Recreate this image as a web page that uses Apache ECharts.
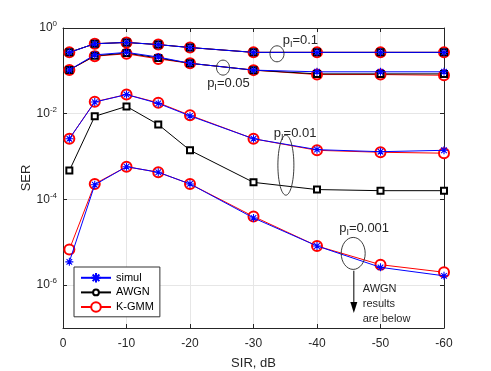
<!DOCTYPE html>
<html>
<head>
<meta charset="utf-8">
<script src="https://cdn.jsdelivr.net/npm/echarts@6/dist/echarts.min.js"></script>
<style>html,body{margin:0;padding:0;background:#fff}#c{width:491px;height:371px}</style>
</head>
<body>
<div id="c"></div>
<script>
// ---- data ----
const sir = [-1, -5, -10, -15, -20, -30, -40, -50, -60];
const xTicks = [0, -10, -20, -30, -40, -50, -60];
const yTicks = [1e-6, 1e-4, 1e-2, 1];

const simul_p1 = [0.27, 0.43, 0.46, 0.41, 0.35, 0.27, 0.27, 0.27, 0.27];
const awgn_p1  = [0.27, 0.43, 0.46, 0.41, 0.35, 0.27, 0.27, 0.27, 0.27];
const kgmm_p1  = [0.27, 0.43, 0.46, 0.41, 0.35, 0.27, 0.27, 0.27, 0.27];

const simul_p05 = [0.105, 0.236, 0.27, 0.21, 0.15, 0.104, 0.095, 0.095, 0.095];
const awgn_p05  = [0.105, 0.225, 0.26, 0.20, 0.15, 0.104, 0.085, 0.085, 0.085];
const kgmm_p05  = [0.105, 0.22, 0.25, 0.19, 0.15, 0.104, 0.082, 0.082, 0.079];

const simul_p01 = [0.0026, 0.0187, 0.028, 0.0174, 0.0089, 0.0026, 0.00145, 0.0013, 0.0014];
const awgn_p01  = [4.7e-4, 0.0087, 0.0148, 0.0056, 0.0014, 2.5e-4, 1.7e-4, 1.6e-4, 1.6e-4];
const kgmm_p01  = [0.0026, 0.019, 0.028, 0.018, 0.0092, 0.0026, 0.0014, 0.00126, 0.0012];

const simul_p001 = [3.5e-6, 2.2e-4, 5.8e-4, 4.3e-4, 2.3e-4, 3.7e-5, 8.2e-6, 2.6e-6, 1.65e-6];
const kgmm_p001  = [6.8e-6, 2.3e-4, 5.8e-4, 4.3e-4, 2.3e-4, 4.0e-5, 8.2e-6, 3.0e-6, 2.0e-6];

// annotations: label, text anchor (dB, SER), ellipse centre (dB, SER) with radii
const annLabels = ['0.1', '0.05', '0.01', '0.001'];
const annText = [[-34.6, 0.525], [-22.7, 0.051], [-33.2, 3.55e-3], [-43.5, 2.15e-5]];
const annEll = [[-33.7, 0.25, 7, 8], [-25.2, 0.119, 6.5, 7.5], [-35.1, 6.3e-4, 8, 30], [-45.7, 5.5e-6, 12, 16]];
const arrowFrom = [-45.8, 2.17e-6], arrowTo = [-45.8, 2.24e-7];
const arrowNote = 'AWGN\nresults\nare below';
const arrowNotePos = [-47.2, 1.2e-6];

// ---- styling ----
const FONT = 'Liberation Sans, Arial, sans-serif';
const AX = '#262626';
const STAR = 'path://M0,-10L0,10M-10,0L10,0M-7,-7L7,7M-7,7L7,-7';
const SMALL_O = 'path://M-10,-10M10,10M0,-6A6,6,0,1,1,0,6A6,6,0,1,1,0,-6Z';

function pts(ys) { return sir.map((x, i) => [x, ys[i]]); }

function mk(name, ys) {
  const base = { name, type: 'line', data: ys ? pts(ys) : [], z: 2, animation: false };
  if (name === 'simul') Object.assign(base, {
    symbol: STAR, symbolSize: 8, lineStyle: { color: '#0000ff', width: 1 },
    itemStyle: { color: '#0000ff', borderColor: '#0000ff', borderWidth: 1.1 }, z: 3
  });
  if (name === 'AWGN') Object.assign(base, {
    symbol: 'emptyRect', symbolSize: 6, lineStyle: { color: '#000', width: 1 },
    itemStyle: { color: '#000', borderColor: '#000', borderWidth: 0.9 }
  });
  if (name === 'K-GMM') Object.assign(base, {
    symbol: 'emptyCircle', symbolSize: 10, lineStyle: { color: '#ff0000', width: 1 },
    itemStyle: { color: '#ff0000', borderColor: '#ff0000', borderWidth: 0.9 }
  });
  return base;
}

// first 'AWGN' entry only defines the legend icon (small open circle)
const legendAwgn = mk('AWGN', null);
legendAwgn.symbol = SMALL_O;
legendAwgn.itemStyle = { color: '#fff', borderColor: '#000', borderWidth: 1 };

const series = [
  legendAwgn,
  mk('K-GMM', kgmm_p1), mk('AWGN', awgn_p1), mk('simul', simul_p1),
  mk('K-GMM', kgmm_p05), mk('AWGN', awgn_p05), mk('simul', simul_p05),
  mk('K-GMM', kgmm_p01), mk('AWGN', awgn_p01), mk('simul', simul_p01),
  mk('K-GMM', kgmm_p001), mk('simul', simul_p001)
];

const chart = echarts.init(document.getElementById('c'), null, { renderer: 'canvas' });

const xBase = {
  type: 'value', min: -60, max: 0, interval: 10, inverse: true,
  axisLine: { show: true, onZero: false, lineStyle: { color: AX, width: 1 } },
  axisTick: { show: true, inside: true, length: 4, lineStyle: { color: AX } },
};
const yBase = {
  type: 'log', logBase: 10, min: 1e-7, max: 1,
  axisLine: { show: true, onZero: false, lineStyle: { color: AX, width: 1 } },
  axisTick: { show: true, inside: true, length: 4, customValues: yTicks, lineStyle: { color: AX } },
};

chart.setOption({
  animation: false,
  textStyle: { fontFamily: FONT },
  grid: { left: 63, right: 47, top: 28, bottom: 43, containLabel: false, outerBoundsMode: 'none' },
  legend: {
    orient: 'vertical', left: 74, top: 267,
    data: ['simul', 'AWGN', 'K-GMM'],
    itemWidth: 30, itemHeight: 12, itemGap: 3,
    padding: [5, 6, 4, 6],
    backgroundColor: '#fff', borderColor: '#333', borderWidth: 1, borderRadius: 0,
    textStyle: { fontFamily: FONT, fontSize: 11, color: '#000' }
  },
  xAxis: [
    Object.assign({}, xBase, {
      position: 'bottom',
      name: 'SIR, dB', nameLocation: 'middle', nameGap: 29, nameMoveOverlap: false,
      nameTextStyle: { fontFamily: FONT, fontSize: 13, color: AX },
      axisLabel: { fontFamily: FONT, fontSize: 12, color: AX, margin: 10, formatter: v => String(v) },
      splitLine: { show: true, lineStyle: { color: '#e6e6e6', width: 1 } }
    }),
    Object.assign({}, xBase, {
      position: 'top', axisLabel: { show: false }, splitLine: { show: false }
    })
  ],
  yAxis: [
    Object.assign({}, yBase, {
      position: 'left',
      name: 'SER', nameLocation: 'middle', nameGap: 30, nameRotate: 90, nameMoveOverlap: false,
      nameTextStyle: { fontFamily: FONT, fontSize: 13, color: AX },
      axisLabel: {
        customValues: yTicks, margin: 6,
        formatter: v => '{b|10}{e|' + Math.round(Math.log10(v)) + '}',
        rich: {
          b: { fontFamily: FONT, fontSize: 12, color: AX },
          e: { fontFamily: FONT, fontSize: 8, color: AX, padding: [0, 0, 8, 0] }
        }
      },
      splitLine: { show: true, lineStyle: { color: '#e6e6e6', width: 1 } }
    }),
    Object.assign({}, yBase, {
      position: 'right', axisLabel: { show: false }, splitLine: { show: false }
    })
  ],
  series
});

// annotations placed from data coordinates
function px(p) { return chart.convertToPixel({ gridIndex: 0 }, p); }
const g = [];
annLabels.forEach((lab, i) => {
  const t = px(annText[i]);
  g.push({
    type: 'text', x: t[0], y: t[1], z: 10,
    style: {
      text: '{p|p}{s|I}{p|=' + lab + '}', verticalAlign: 'middle', align: 'left',
      rich: {
        p: { fontFamily: FONT, fontSize: 13, fill: AX },
        s: { fontFamily: FONT, fontSize: 9, fill: AX, padding: [9, 0, 0, 0] }
      }
    }
  });
  const e = px([annEll[i][0], annEll[i][1]]);
  g.push({
    type: 'ellipse', z: 10,
    shape: { cx: e[0], cy: e[1], rx: annEll[i][2], ry: annEll[i][3] },
    style: { fill: 'none', stroke: AX, lineWidth: 0.9 }
  });
});
const a0 = px(arrowFrom), a1 = px(arrowTo);
g.push({ type: 'line', z: 10, shape: { x1: a0[0], y1: a0[1], x2: a1[0], y2: a1[1] - 8 }, style: { stroke: '#000', lineWidth: 1 } });
g.push({ type: 'polygon', z: 10, shape: { points: [[a1[0] - 3.5, a1[1] - 11], [a1[0] + 3.5, a1[1] - 11], [a1[0], a1[1]]] }, style: { fill: '#000' } });
const an = px(arrowNotePos);
g.push({
  type: 'text', x: an[0], y: an[1], z: 10,
  style: { text: arrowNote, fontFamily: FONT, fontSize: 11, fill: AX, lineHeight: 15, align: 'left', verticalAlign: 'top' }
});
chart.setOption({ graphic: g });
</script>
</body>
</html>
